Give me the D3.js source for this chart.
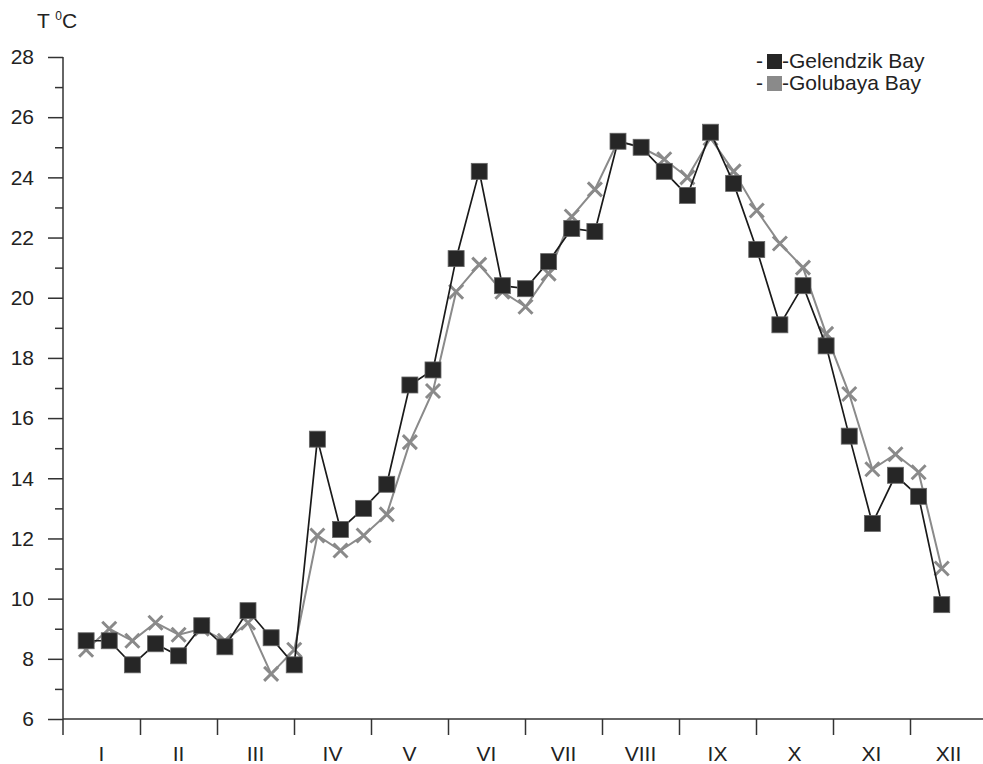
<!DOCTYPE html>
<html>
<head>
<meta charset="utf-8">
<script src="https://cdn.jsdelivr.net/npm/d3@7"></script>
<style>
  body { margin: 0; background: #fff; }
  svg { font-family: "Liberation Sans", Arial, sans-serif; }
</style>
</head>
<body>
<script>
// month labels (x axis)
const months = ['I', 'II', 'III', 'IV', 'V', 'VI', 'VII', 'VIII', 'IX', 'X', 'XI', 'XII'];

// water temperature by ten-day period, T °C
const gelendzik = [8.6, 8.6, 7.8, 8.5, 8.1, 9.1, 8.4, 9.6, 8.7, 7.8,
  15.3, 12.3, 13.0, 13.8, 17.1, 17.6, 21.3, 24.2, 20.4, 20.3,
  21.2, 22.3, 22.2, 25.2, 25.0, 24.2, 23.4, 25.5, 23.8, 21.6,
  19.1, 20.4, 18.4, 15.4, 12.5, 14.1, 13.4, 9.8];

const golubaya = [8.3, 9.0, 8.6, 9.2, 8.8, 9.0, 8.6, 9.2, 7.5, 8.3,
  12.1, 11.6, 12.1, 12.8, 15.2, 16.9, 20.2, 21.1, 20.2, 19.7,
  20.8, 22.7, 23.6, 25.2, 25.0, 24.6, 24.0, 25.3, 24.2, 22.9,
  21.8, 21.0, 18.8, 16.8, 14.3, 14.8, 14.2, 11.0];

const yMajor = [6, 8, 10, 12, 14, 16, 18, 20, 22, 24, 26, 28];
const yMinor = [7, 9, 11, 13, 15, 17, 19, 21, 23, 25, 27];

const width = 983;
const height = 764;
const plot = { left: 63, right: 987, top: 57, bottom: 719 };

const svg = d3.select('body')
  .append('svg')
  .attr('width', width)
  .attr('height', height);

// Scales
const y = d3.scaleLinear().domain([6, 28]).range([plot.bottom, plot.top]);
const xMonth = d3.scaleLinear().domain([0, 12]).range([plot.left, plot.right]);
const xPt = d3.scaleLinear().domain([0, 40]).range([plot.left, 988]);

const axisColor = '#333';

// Y axis
const yAxis = svg.append('g')
  .attr('transform', `translate(${plot.left},0)`)
  .call(d3.axisLeft(y).tickValues(yMajor).tickSize(15).tickPadding(14).tickFormat(d3.format('d')));
yAxis.select('.domain').remove();

const yAxisMinor = svg.append('g')
  .attr('transform', `translate(${plot.left},0)`)
  .call(d3.axisLeft(y).tickValues(yMinor).tickSize(8).tickFormat(''));
yAxisMinor.select('.domain').remove();

svg.append('line')
  .attr('x1', plot.left).attr('x2', plot.left)
  .attr('y1', y(28)).attr('y2', plot.bottom + 16)
  .attr('stroke', axisColor).attr('stroke-width', 1.5);

// X axis
const xAxis = svg.append('g')
  .attr('transform', `translate(0,${plot.bottom})`)
  .call(d3.axisBottom(xMonth).tickValues(d3.range(1, 12)).tickSize(16).tickFormat(''));
xAxis.select('.domain').remove();

svg.append('line')
  .attr('x1', plot.left).attr('x2', width)
  .attr('y1', plot.bottom).attr('y2', plot.bottom)
  .attr('stroke', axisColor).attr('stroke-width', 1.5);

svg.selectAll('text.month')
  .data(months)
  .enter()
  .append('text')
  .attr('class', 'month')
  .attr('x', (d, i) => xMonth(i + 0.5))
  .attr('y', 761)
  .attr('text-anchor', 'middle')
  .style('font-size', '21px')
  .attr('fill', '#222')
  .text(d => d);

svg.selectAll('.tick line').attr('stroke', axisColor).attr('stroke-width', 1.5);
svg.selectAll('.tick text').style('font-size', '21px').attr('fill', '#222');

// Axis title
const title = svg.append('text')
  .attr('x', 37)
  .attr('y', 28)
  .style('font-size', '21px')
  .attr('fill', '#222');
title.append('tspan').text('T ');
title.append('tspan').text('0').style('font-size', '12px').attr('dy', -8);
title.append('tspan').text('C').attr('dy', 8);

// Golubaya Bay: grey line with x marks
const line = d3.line()
  .x((d, i) => xPt(i + 1))
  .y(d => y(d));

svg.append('path')
  .datum(golubaya)
  .attr('fill', 'none')
  .attr('stroke', '#8a8a8a')
  .attr('stroke-width', 2)
  .attr('d', line);

const xs = 7;
svg.selectAll('path.cross')
  .data(golubaya)
  .enter()
  .append('path')
  .attr('class', 'cross')
  .attr('d', (d, i) => {
    const cx = xPt(i + 1), cy = y(d);
    return `M${cx - xs},${cy - xs}L${cx + xs},${cy + xs}M${cx - xs},${cy + xs}L${cx + xs},${cy - xs}`;
  })
  .attr('stroke', '#8a8a8a')
  .attr('stroke-width', 3)
  .attr('fill', 'none');

// Gelendzik Bay: black line with squares
svg.append('path')
  .datum(gelendzik)
  .attr('fill', 'none')
  .attr('stroke', '#1a1a1a')
  .attr('stroke-width', 1.7)
  .attr('d', line);

const sq = 16;
svg.selectAll('rect.sq')
  .data(gelendzik)
  .enter()
  .append('rect')
  .attr('class', 'sq')
  .attr('x', (d, i) => xPt(i + 1) - sq / 2)
  .attr('y', d => y(d) - sq / 2)
  .attr('width', sq)
  .attr('height', sq)
  .attr('fill', '#262626')
  .attr('stroke', '#666')
  .attr('stroke-width', 0.8);

// Legend
const legendItems = [
  { name: '-Gelendzik Bay', color: '#262626' },
  { name: '-Golubaya Bay', color: '#8a8a8a' }
];

const legend = svg.selectAll('g.legend')
  .data(legendItems)
  .enter()
  .append('g')
  .attr('class', 'legend')
  .attr('transform', (d, i) => `translate(756, ${68 + i * 22})`);

legend.append('text')
  .attr('x', 0)
  .style('font-size', '21px')
  .attr('fill', '#222')
  .text('-');

legend.append('rect')
  .attr('x', 11)
  .attr('y', -14)
  .attr('width', 15)
  .attr('height', 15)
  .attr('fill', d => d.color);

legend.append('text')
  .attr('x', 26)
  .style('font-size', '21px')
  .attr('fill', '#222')
  .text(d => d.name);
</script>
</body>
</html>
